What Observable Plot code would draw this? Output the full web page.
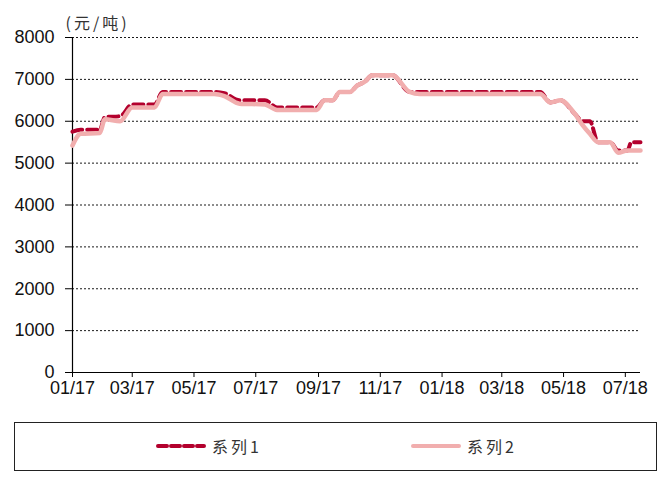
<!DOCTYPE html>
<html>
<head>
<meta charset="utf-8">
<script src="https://cdn.jsdelivr.net/npm/d3@7"></script>
<script src="https://cdn.jsdelivr.net/npm/@observablehq/plot@0.6"></script>
<style>
  body { margin: 0; background: #fff; }
  #wrap { position: relative; width: 664px; height: 480px; overflow: hidden; }
  #legend {
    position: absolute; left: 14px; top: 422px; width: 643px; height: 49px;
    border: 1px solid #222; box-sizing: border-box; background: #fff;
    font-family: "Noto Sans CJK SC", sans-serif; font-size: 16px; color: #333; letter-spacing: 3px;
  }
  .item { position: absolute; top: 11px; display: flex; align-items: center; }
  .item svg { margin-right: 5px; }
</style>
</head>
<body>
<div id="wrap">
  <div id="chart"></div>
  <div id="legend"></div>
</div>
<script>
const seriesNames = ["系列1", "系列2"];
const unitLabel = "(元/吨)";
const dates = ["2017-01-01","2017-01-09","2017-01-28","2017-02-02","2017-02-17","2017-03-01","2017-03-23","2017-03-31",
  "2017-05-21","2017-05-31","2017-06-15","2017-07-10","2017-07-22","2017-08-30","2017-09-07","2017-09-15",
  "2017-09-22","2017-10-02","2017-10-09","2017-10-17","2017-10-24","2017-11-13","2017-11-30","2017-12-10",
  "2018-04-08","2018-04-18","2018-04-28","2018-05-12","2018-05-20","2018-05-27","2018-06-04","2018-06-16",
  "2018-06-24","2018-07-03","2018-07-07","2018-07-16"];
const series1 = [5750,5800,5800,6100,6120,6400,6400,6700,
  6700,6670,6500,6500,6330,6330,6500,6500,
  6700,6700,6850,6950,7100,7100,6700,6700,
  6700,6450,6500,6180,6000,6000,5500,5500,
  5300,5300,5500,5500];
const series2 = [5420,5700,5720,6050,6000,6330,6330,6650,
  6650,6600,6420,6400,6270,6270,6500,6500,
  6700,6700,6850,6950,7100,7100,6700,6650,
  6650,6450,6500,6180,5900,5700,5500,5500,
  5250,5300,5300,5300];
const xTickDates = ["2017-01-01","2017-03-01","2017-05-01","2017-07-01","2017-09-01","2017-11-01",
  "2018-01-01","2018-03-01","2018-05-01","2018-07-01"];
const xTickLabels = ["01/17","03/17","05/17","07/17","09/17","11/17","01/18","03/18","05/18","07/18"];
const yTicks = [0,1000,2000,3000,4000,5000,6000,7000,8000];
const xDomain = ["2017-01-01","2018-07-16"];
const colors = ["#B3002D", "#F1AEAE"];

const parse = d3.utcParse("%Y-%m-%d");
const rows1 = dates.map((d, i) => ({date: parse(d), value: series1[i]}));
const rows2 = dates.map((d, i) => ({date: parse(d), value: series2[i]}));
const tickDates = xTickDates.map(parse);

const chart = Plot.plot({
  width: 664,
  height: 400,
  marginLeft: 72,
  marginRight: 24,
  marginTop: 37,
  marginBottom: 28,
  style: {fontFamily: "'Liberation Sans', Arial, sans-serif", fontSize: "18px", color: "#111", background: "#fff"},
  x: {type: "utc", domain: xDomain.map(parse)},
  y: {domain: [0, 8000]},
  marks: [
    Plot.gridY(yTicks.filter(v => v > 0), {stroke: "#000", strokeOpacity: 0.9, strokeDasharray: "2,2", strokeWidth: 1}),
    Plot.axisY(yTicks, {tickSize: 7, tickPadding: 11, tickFormat: d3.format("d"), label: null, stroke: "#000"}),
    Plot.axisX(tickDates, {tickSize: 5, tickPadding: 4, tickFormat: (d, i) => xTickLabels[i], label: null, stroke: "#000"}),
    Plot.ruleX([parse(xDomain[0])], {stroke: "#000", strokeWidth: 1.2}),
    Plot.ruleY([0], {stroke: "#000", strokeWidth: 1.2}),
    Plot.line(rows1, {x: "date", y: "value", stroke: colors[0], strokeWidth: 4, strokeDasharray: "10,5", curve: "monotone-x"}),
    Plot.line(rows2, {x: "date", y: "value", stroke: colors[1], strokeWidth: 4.5, curve: "monotone-x"}),
    Plot.text([unitLabel], {frameAnchor: "top-left", dx: -7, dy: -20, text: d => d, textAnchor: "start",
      fontFamily: "'Noto Sans CJK SC', sans-serif", fontSize: 16, fill: "#333"})
  ]
});
chart.querySelectorAll("g[aria-label='text'] text").forEach(t => t.style.letterSpacing = "3px");
document.getElementById("chart").appendChild(chart);

// legend
const legend = document.getElementById("legend");
const legendX = [140, 395];
seriesNames.forEach((name, i) => {
  const item = document.createElement("div");
  item.className = "item";
  item.style.left = legendX[i] + "px";
  const dash = i === 0 ? 'stroke-dasharray="9,4"' : "";
  item.innerHTML = `<svg width="52" height="10"><line x1="3" y1="5" x2="49" y2="5" stroke="${colors[i]}" stroke-width="4" stroke-linecap="round" ${dash}/></svg><span>${name}</span>`;
  legend.appendChild(item);
});
</script>
</body>
</html>
